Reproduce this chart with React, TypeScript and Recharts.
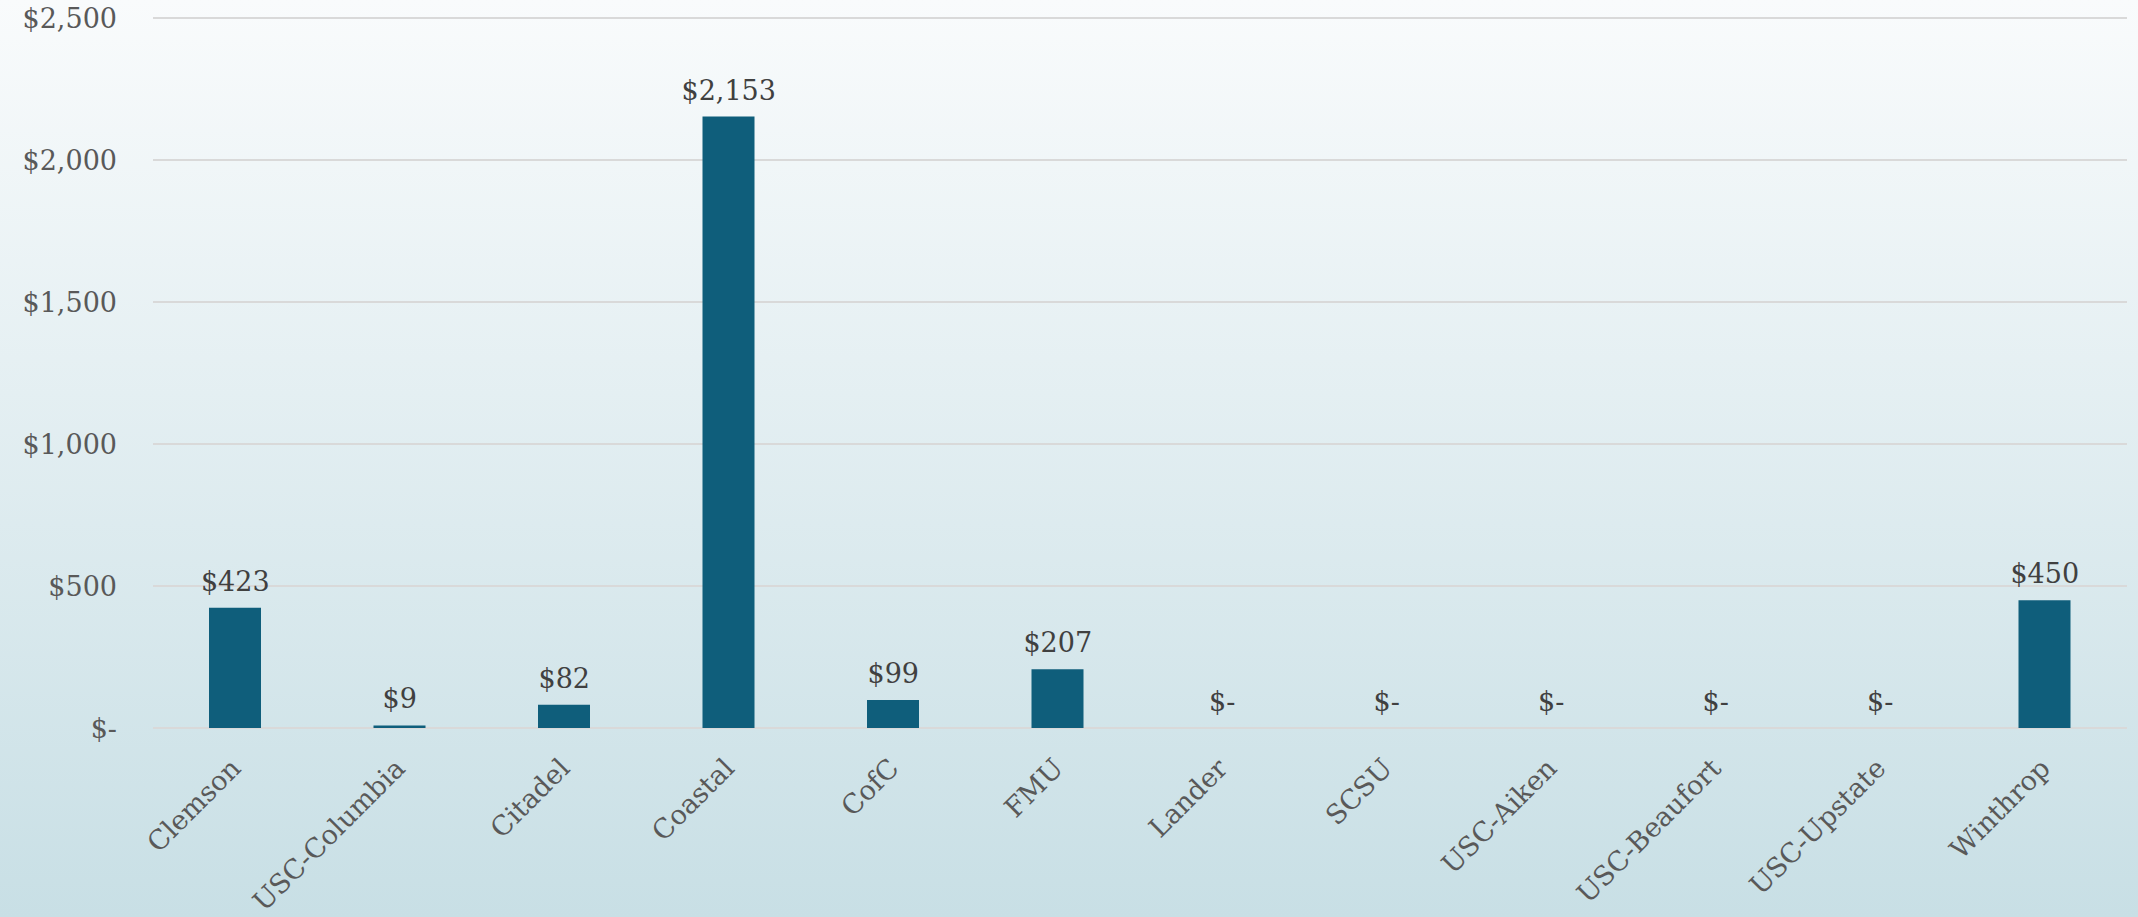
import { ComposedChart, Bar, Line, XAxis, YAxis, CartesianGrid, LabelList } from "recharts";

const schools = [
  "Clemson",
  "USC-Columbia",
  "Citadel",
  "Coastal",
  "CofC",
  "FMU",
  "Lander",
  "SCSU",
  "USC-Aiken",
  "USC-Beaufort",
  "USC-Upstate",
  "Winthrop",
];
const amounts = [423, 9, 82, 2153, 99, 207, 0, 0, 0, 0, 0, 450];
const yTicks = [0, 500, 1000, 1500, 2000, 2500];

const data = schools.map((name, i) => ({ name, value: amounts[i] }));

const FONT = "'DejaVu Serif', Georgia, serif";

const money = (v: number) => (v === 0 ? "$-" : "$" + v.toLocaleString("en-US"));

// rotated category labels, end of text sits just below the tick
const SchoolTick = ({ x, y, payload }: any) => {
  const tx = x + 7;
  const ty = y + 34;
  return (
    <text
      x={tx}
      y={ty}
      transform={`rotate(-45, ${tx}, ${ty})`}
      textAnchor="end"
      fontFamily={FONT}
      fontSize={27}
      fill="#595959"
    >
      {payload.value}
    </text>
  );
};

export default function App() {
  return (
    <div
      style={{
        position: "absolute",
        left: 0,
        top: 0,
        width: 2138,
        height: 917,
        background: "linear-gradient(to bottom, #f9fbfc 0%, #c8dfe5 100%)",
      }}
    >
      <ComposedChart
        width={2138}
        height={917}
        data={data}
        margin={{ top: 18, right: 11, left: 0, bottom: 0 }}
      >
        <CartesianGrid vertical={false} stroke="#d9d9d9" strokeWidth={2} />
        <XAxis
          dataKey="name"
          axisLine={false}
          tickLine={false}
          height={189}
          interval={0}
          tick={<SchoolTick />}
        />
        <YAxis
          width={153}
          domain={[0, 2500]}
          ticks={yTicks}
          axisLine={false}
          tickLine={false}
          tickMargin={30}
          tickFormatter={money}
          tick={{ fontFamily: FONT, fontSize: 27, fill: "#595959" }}
        />
        <Bar dataKey="value" fill="#0f5e7b" barSize={52} isAnimationActive={false} />
        {/* invisible line only carries the value labels, so the $- zeros show too */}
        <Line
          dataKey="value"
          stroke="none"
          dot={false}
          activeDot={false}
          legendType="none"
          isAnimationActive={false}
        >
          <LabelList
            dataKey="value"
            position="top"
            offset={17}
            formatter={(v: any) => money(Number(v))}
            style={{ fontFamily: FONT, fontSize: 27, fill: "#404040" }}
          />
        </Line>
      </ComposedChart>
    </div>
  );
}
